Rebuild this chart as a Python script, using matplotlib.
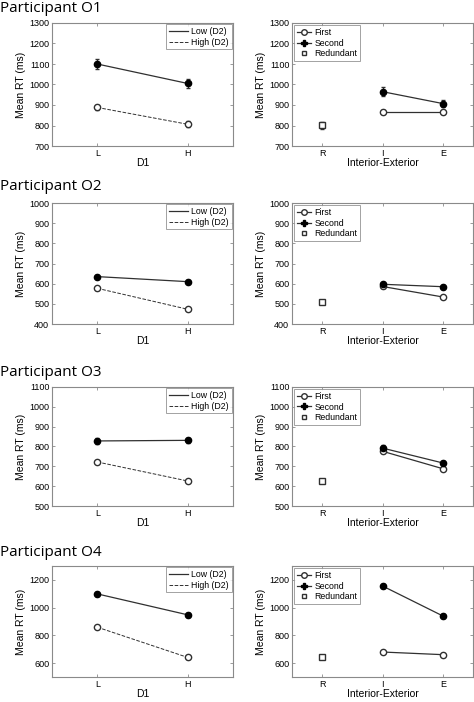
import matplotlib
matplotlib.use("Agg")
import matplotlib.pyplot as plt
from matplotlib.lines import Line2D

plt.rcParams.update({'font.family': ['Liberation Sans', 'DejaVu Sans'], 'font.size': 6})

W, H = 474, 702
participants = ['O1', 'O2', 'O3', 'O4']
d1_labels = ['L', 'H']
ie_labels = ['R', 'I', 'E']

# left panels: mean RT by D1 for low/high D2
low_d2 = [[1100, 1005], [635, 610], [828, 831], [1099, 948]]
low_err = [[22, 20], [6, 6], [14, 14], [14, 12]]
high_d2 = [[888, 806], [577, 473], [722, 626], [859, 641]]
high_err = [[14, 14], [6, 6], [6, 6], [8, 8]]

# right panels: interior/exterior
redundant = [801, 511, 624, 645]
redundant_err = [16, 6, 8, 8]
first = [[865, 865], [586, 534], [776, 688], [680, 661]]
first_err = [[10, 10], [6, 6], [10, 8], [8, 8]]
second = [[965, 907], [597, 585], [792, 717], [1156, 940]]
second_err = [[22, 18], [8, 10], [16, 12], [16, 12]]

ylims = [(700, 1300), (400, 1000), (500, 1100), (500, 1300)]
yticks = [range(700, 1301, 100), range(400, 1001, 100), range(500, 1101, 100), range(600, 1201, 200)]

# pixel layout (top, bottom) for each row and title y
rows = [(23, 146), (203, 324), (387, 506), (566, 677)]
title_y = [9, 186, 372, 552]
LX = (52, 233)
RX = (292, 473)

fig = plt.figure(figsize=(W / 100, H / 100), dpi=100)
LC = '#303030'
SP = '#8a8a8a'


def mkax(xr, yr):
    ax = fig.add_axes([xr[0] / W, 1 - yr[1] / H, (xr[1] - xr[0]) / W, (yr[1] - yr[0]) / H])
    for s in ax.spines.values():
        s.set_color(SP); s.set_linewidth(0.8)
    ax.tick_params(direction='in', top=True, right=True, length=2.5, width=0.6,
                   color=SP, labelsize=6.5, pad=2)
    return ax


def style_leg(lg):
    lg.get_frame().set_edgecolor(SP); lg.get_frame().set_linewidth(0.7)


for i, p in enumerate(participants):
    fig.text(0.0, 1 - title_y[i] / H, f'Participant {p}', fontsize=11, family='Open Sans',
             va='center', ha='left')
    # left: D1 x D2
    ax = mkax(LX, rows[i])
    x = [1, 2]
    ax.errorbar(x, low_d2[i], yerr=low_err[i], color=LC, lw=0.9, marker='o', ms=4.5,
                mfc='black', mec='black', capsize=1.2, elinewidth=0.9)
    ax.errorbar(x, high_d2[i], yerr=high_err[i], color=LC, lw=0.7, ls='--', marker='o', ms=4.5,
                mfc='white', mec=LC, capsize=1.2, elinewidth=0.9)
    ax.set_xlim(0.5, 2.5); ax.set_ylim(*ylims[i]); ax.set_yticks(list(yticks[i]))
    ax.set_xticks(x); ax.set_xticklabels(d1_labels)
    ax.set_xlabel('D1', fontsize=7.5, labelpad=0.5)
    ax.set_ylabel('Mean RT (ms)', fontsize=7.5, labelpad=2)
    hl = [Line2D([], [], color=LC, lw=0.9), Line2D([], [], color=LC, lw=0.7, ls='--')]
    style_leg(ax.legend(hl, ['Low (D2)', 'High (D2)'], loc='upper right', fontsize=6.3,
                        fancybox=False, handlelength=2.2, handletextpad=0.4, borderpad=0.3,
                        labelspacing=0.2, borderaxespad=0.15))
    # right: interior-exterior
    ax = mkax(RX, rows[i])
    xs = [2, 3]
    ax.errorbar(xs, first[i], yerr=first_err[i], color=LC, lw=0.9, marker='o', ms=4.5,
                mfc='white', mec=LC, capsize=1.2, elinewidth=0.9)
    ax.errorbar(xs, second[i], yerr=second_err[i], color=LC, lw=0.9, marker='o', ms=4.5,
                mfc='black', mec='black', capsize=1.2, elinewidth=0.9)
    ax.errorbar([1], [redundant[i]], yerr=[redundant_err[i]], color=LC, ls='none', marker='s',
                ms=4, mfc='white', mec=LC, capsize=1.2, elinewidth=0.9)
    ax.set_xlim(0.5, 3.5); ax.set_ylim(*ylims[i]); ax.set_yticks(list(yticks[i]))
    ax.set_xticks([1, 2, 3]); ax.set_xticklabels(ie_labels)
    ax.set_xlabel('Interior-Exterior', fontsize=7.5, labelpad=0.5)
    ax.set_ylabel('Mean RT (ms)', fontsize=7.5, labelpad=2)
    hr = [Line2D([], [], color=LC, lw=0.9, marker='o', ms=4, mfc='white', mec=LC),
          Line2D([], [], color=LC, lw=0.9, marker='P', ms=4.5, mfc='black', mec='black'),
          Line2D([], [], color=LC, ls='none', marker='s', ms=3.5, mfc='white', mec=LC)]
    style_leg(ax.legend(hr, ['First', 'Second', 'Redundant'], loc='upper left', fontsize=6.3,
                        fancybox=False, handlelength=1.6, handletextpad=0.4, borderpad=0.3,
                        labelspacing=0.2, borderaxespad=0.25))

fig.savefig('out.png', dpi=100)
